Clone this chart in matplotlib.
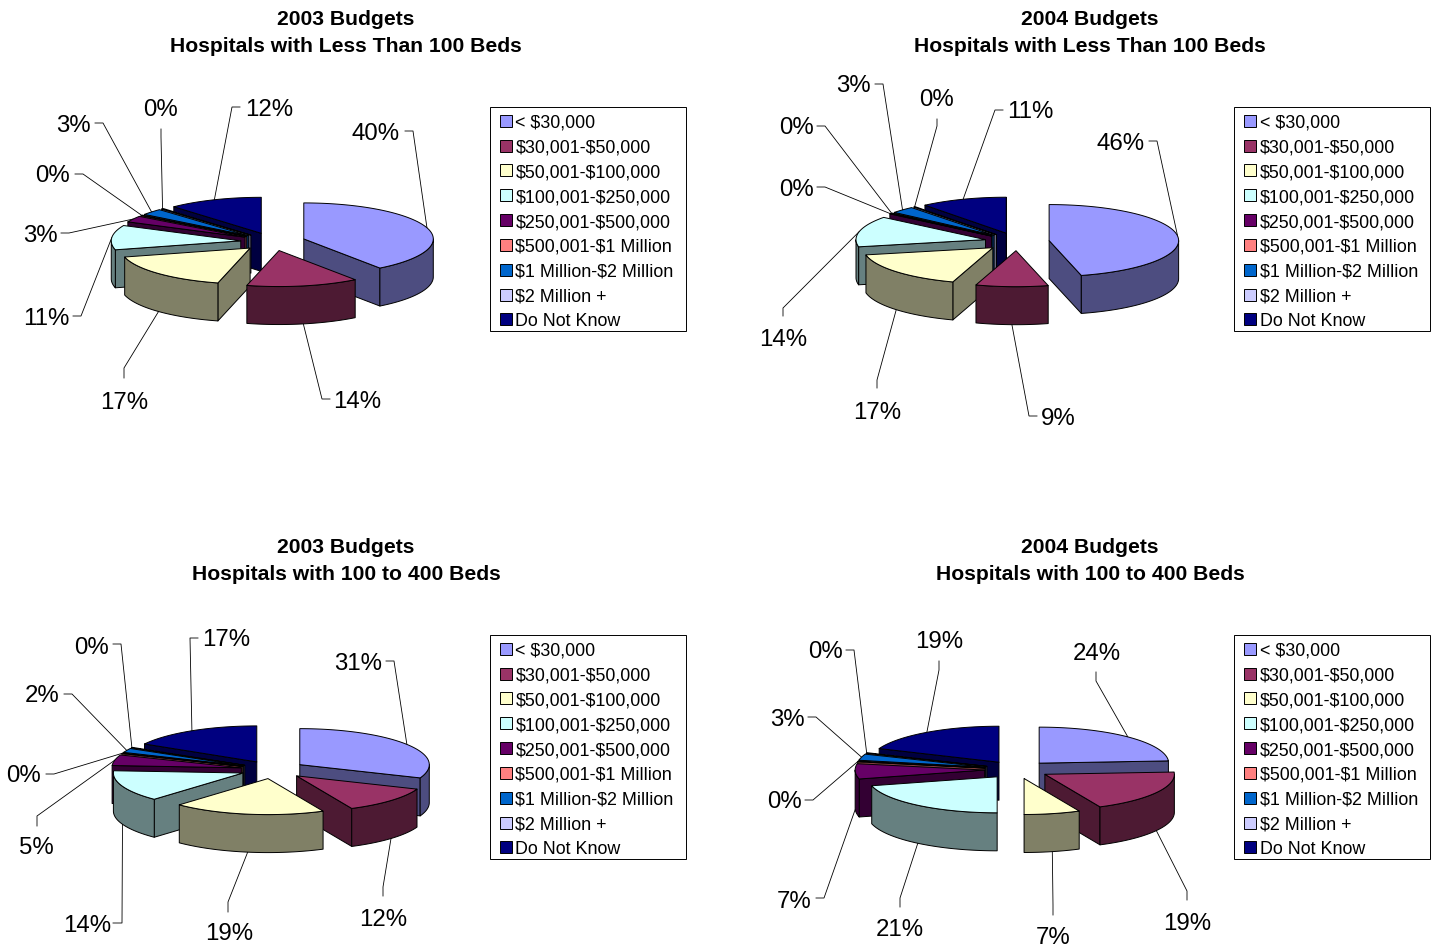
import numpy as np
import matplotlib
matplotlib.use("Agg")
import matplotlib.pyplot as plt
from matplotlib.patches import Polygon, Rectangle

plt.rcParams['font.family'] = ['Liberation Sans', 'DejaVu Sans']
plt.rcParams['text.parse_math'] = False

# ---- data ----
categories = ["< $30,000", "$30,001-$50,000", "$50,001-$100,000", "$100,001-$250,000",
              "$250,001-$500,000", "$500,001-$1 Million", "$1 Million-$2 Million",
              "$2 Million +", "Do Not Know"]
top_colors = ["#9999FF", "#993366", "#FFFFCC", "#CCFFFF", "#660066",
              "#FF8080", "#0066CC", "#CCCCFF", "#000080"]

small_2003 = [40, 14, 17, 11, 2.8, 0.3, 2.8, 0.3, 11.8]
small_2004 = [46, 9, 16.8, 13.8, 0.2, 0.2, 3, 0.2, 10.8]
medium_2003 = [31, 12, 19, 14, 4.8, 0.3, 1.9, 0.3, 16.7]
medium_2004 = [24, 19, 7, 21, 6.8, 0.3, 2.8, 0.3, 18.8]

titles = ["2003 Budgets\nHospitals with Less Than 100 Beds",
          "2004 Budgets\nHospitals with Less Than 100 Beds",
          "2003 Budgets\nHospitals with 100 to 400 Beds",
          "2004 Budgets\nHospitals with 100 to 400 Beds"]

# ---- layout, in pixels ----
W, H = 1435, 946
PANEL_ORIGINS = [(0, 0), (744, 0), (0, 528), (744, 528)]
PANEL_SIZE = (691, 418)
CX, CY = 273.0, 241.7      # pie centre within a panel
RX, RY = 129.5, 36.0       # ellipse radii of the top face
DEPTH = 38.0               # height of the extruded side
EXPLODE = 0.25             # slice offset as a share of the radius
EDGE = 0.7
LABEL_DY = 2.5
LEGEND_BOX = (490, 107, 196, 224)
LEGEND_FIRST_ROW = 120.8
LEGEND_ROW_STEP = 24.82

# For every slice: label centre, then the two points of the leader's elbow
LABELS_1 = [((376, 131), (405, 131), (413, 131)),
            ((357, 399), (330, 399), (322, 399)),
            ((124, 400), (124, 378), (124, 368)),
            ((46, 316), (73, 316), (81, 316)),
            ((40, 233), (61, 233), (69, 233)),
            ((53, 174), (75, 174), (83, 174)),
            ((73, 123), (95, 123), (103, 123)),
            ((161, 108), (161, 129), (161, 137)),
            ((269, 107), (240, 107), (232, 107))]
LABELS_2 = [((377, 141), (405, 141), (413, 141)),
            ((314, 416), (293, 416), (285, 416)),
            ((133, 410), (133, 388), (133, 380)),
            ((39, 337), (39, 316), (39, 308)),
            ((52, 187), (73, 187), (81, 187)),
            ((52, 126), (73, 126), (81, 126)),
            ((109, 84), (131, 84), (139, 84)),
            ((193, 98), (193, 119), (193, 126)),
            ((286, 110), (259, 110), (251, 110))]
LABELS_3 = [((358, 133), (386, 133), (394, 133)),
            ((383, 389), (383, 368), (383, 359)),
            ((229, 404), (228, 384), (228, 374)),
            ((87, 395), (113, 395), (122, 395)),
            ((36, 318), (37, 298), (37, 288)),
            ((24, 246), (46, 246), (54, 246)),
            ((42, 166), (64, 166), (72, 166)),
            ((92, 117), (113, 116), (121, 116)),
            ((226, 110), (198, 110), (190, 110))]
LABELS_4 = [((353, 123), (352, 144), (352, 153)),
            ((443, 393), (443, 372), (443, 363)),
            ((309, 407), (309, 387), (309, 377)),
            ((156, 400), (156, 379), (156, 370)),
            ((50, 371), (72, 370), (80, 370)),
            ((40, 272), (61, 272), (69, 272)),
            ((43, 189), (64, 189), (72, 189)),
            ((81, 122), (102, 122), (110, 122)),
            ((195, 112), (195, 133), (195, 142))]


def side_color(color):
    """Shaded variant of a top-face colour for the extruded walls."""
    return tuple(0.5 * c for c in matplotlib.colors.to_rgb(color))


def rim(theta_deg, ox, oy):
    """Rim point for an angle measured clockwise from twelve o'clock."""
    t = np.radians(theta_deg)
    return np.column_stack([ox + RX * np.sin(t), oy - RY * np.cos(t)])


def draw_slice(ax, start, end, color, z):
    mid = np.radians((start + end) / 2)
    ox = CX + RX * EXPLODE * np.sin(mid)
    oy = CY - RY * EXPLODE * np.cos(mid)
    dark = side_color(color)
    style = dict(edgecolor="black", linewidth=EDGE, joinstyle="round", zorder=z)

    # radial walls, only those turned towards the viewer
    walls = []
    if np.sin(np.radians(start)) < 0:
        walls.append(start)
    if np.sin(np.radians(end)) > 0:
        walls.append(end)
    for angle in walls:
        p = rim(np.array([angle]), ox, oy)[0]
        ax.add_patch(Polygon([(ox, oy), p, (p[0], p[1] + DEPTH), (ox, oy + DEPTH)],
                             facecolor=dark, **style))
    # curved wall, only the part that faces the viewer
    lo, hi = max(start, 90), min(end, 270)
    if hi > lo:
        arc = rim(np.linspace(lo, hi, 80), ox, oy)
        low = arc + [0, DEPTH]
        ax.add_patch(Polygon(np.vstack([arc, low[::-1]]), facecolor=dark, **style))
    # top face
    arc = rim(np.linspace(start, end, 120), ox, oy)
    ax.add_patch(Polygon(np.vstack([[(ox, oy)], arc]), facecolor=color, **style))

    # anchor for the leader line
    anchor = rim(np.array([(start + end) / 2]), ox, oy)[0]
    if np.cos(mid) < 0:
        anchor = anchor + [0, DEPTH]
    return anchor


def draw_legend(ax):
    x, y, w, h = LEGEND_BOX
    ax.add_patch(Rectangle((x, y), w, h, facecolor="white", edgecolor="black",
                           linewidth=EDGE, zorder=1))
    for i, (name, color) in enumerate(zip(categories, top_colors)):
        row = LEGEND_FIRST_ROW + i * LEGEND_ROW_STEP
        ax.add_patch(Rectangle((x + 10, row - 6), 12, 12, facecolor=color,
                               edgecolor="black", linewidth=EDGE, zorder=2))
        ax.text(x + 25.5, row + 0.5, name, fontsize=12.9, ha="left",
                va="center_baseline", zorder=2)


def draw_panel(origin, values, title, label_layout):
    ox, oy = origin
    ax = fig.add_axes([ox / W, 1 - (oy + PANEL_SIZE[1]) / H,
                       PANEL_SIZE[0] / W, PANEL_SIZE[1] / H])
    ax.set_xlim(0, PANEL_SIZE[0])
    ax.set_ylim(PANEL_SIZE[1], 0)
    ax.axis("off")

    values = np.asarray(values, dtype=float)
    edges = np.concatenate([[0], np.cumsum(values)]) / values.sum() * 360
    mids = (edges[:-1] + edges[1:]) / 2
    # paint from the back of the pie towards the viewer
    order = np.argsort(-np.abs(mids - 180))
    for rank, i in enumerate(order):
        anchor = draw_slice(ax, edges[i], edges[i + 1], top_colors[i], 3 + rank)
        centre, p0, p1 = label_layout[i]
        ax.plot([p0[0], p1[0], anchor[0]], [p0[1], p1[1], anchor[1]],
                color="black", lw=0.6, zorder=2, solid_joinstyle="round")
        ax.text(centre[0], centre[1] + LABEL_DY, f"{round(values[i])}%", fontsize=17.3,
                ha="center", va="center", color="black", clip_on=False)

    ax.text(346, 33, title, fontsize=15.2, fontweight="bold", ha="center",
            va="center", linespacing=1.48)
    draw_legend(ax)


fig = plt.figure(figsize=(W / 100, H / 100), dpi=100, facecolor="white")
series = [small_2003, small_2004, medium_2003, medium_2004]
layouts = [LABELS_1, LABELS_2, LABELS_3, LABELS_4]
for origin, vals, ttl, lay in zip(PANEL_ORIGINS, series, titles, layouts):
    draw_panel(origin, vals, ttl, lay)

fig.savefig("out.png", dpi=100)
